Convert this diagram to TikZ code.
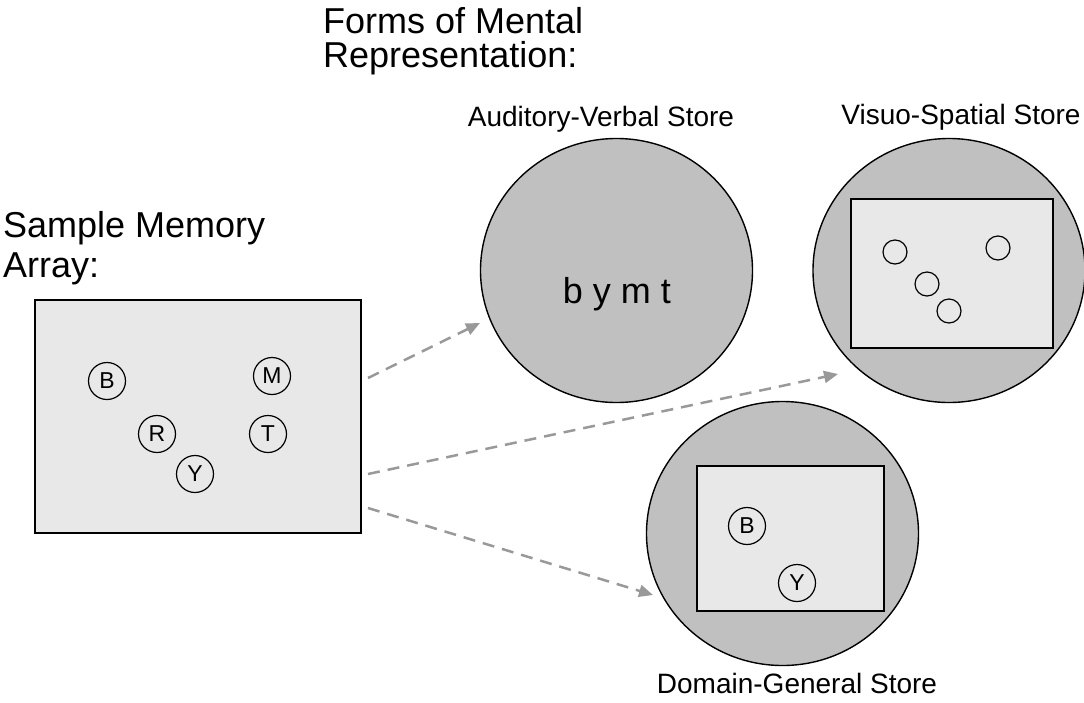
\documentclass[tikz,border=0pt]{standalone}
\usepackage{fontspec}
\setmainfont{Liberation Sans}
\usetikzlibrary{positioning,shapes.geometric,arrows.meta}
\definecolor{storegray}{HTML}{C0C0C0}
\definecolor{panelgray}{HTML}{E8E8E8}
\definecolor{flowgray}{HTML}{999999}
\tikzset{
  store/.style={ellipse, draw=black, line width=1.4pt, fill=storegray,
    minimum width=272pt, minimum height=264pt, inner sep=0pt},
  panel/.style={rectangle, draw=black, line width=1.4pt, fill=panelgray, inner sep=0pt},
  item/.style={circle, draw=black, line width=1.2pt, minimum size=37pt, inner sep=0pt,
    font=\fontsize{23}{23}\selectfont},
  blank/.style={circle, draw=black, line width=1.2pt, minimum size=24pt, inner sep=0pt},
  flow/.style={-{Triangle[length=14pt,width=12pt]}, flowgray, line width=2.5pt,
    dash pattern=on 12pt off 8pt},
  heading/.style={align=left, inner sep=0pt, anchor=base west},
  storelabel/.style={inner sep=0pt, anchor=base, font=\fontsize{28}{28}\selectfont}
}
\begin{document}
\begin{tikzpicture}[x=1pt,y=-1pt]
  \useasboundingbox (0,0) rectangle (1084,702);
  % headings (base is on the last line)
  \node[heading, font=\fontsize{36}{34}\selectfont] (forms) at (323,67)
    {Forms of Mental\\Representation:};
  \node[heading, font=\fontsize{36}{40}\selectfont] (sample) at (3,277)
    {Sample Memory\\Array:};
  % memory array
  \node[panel, minimum width=326pt, minimum height=233pt] (array) at (198,416.5) {};
  \node[item] (b) at (107,381) {B};
  \node[item] (m) at (272,376) {M};
  \node[item] (r) at (157,434) {R};
  \node[item] (t) at (268,434) {T};
  \node[item] (y) at (195,474) {Y};
  % stores
  \node[store] (av) at (616.5,270.5) {};
  \node[store] (vs) at (949,270.5) {};
  \node[store] (dg) at (782.5,533.5) {};
  \node[storelabel] (avlabel) at (601,126) {Auditory-Verbal Store};
  \node[storelabel] (vslabel) at (961,124) {Visuo-Spatial Store};
  \node[storelabel] (dglabel) at (797,693) {Domain-General Store};
  \node[inner sep=0pt, anchor=base, font=\fontsize{36}{36}\selectfont] (words) at (617,303) {b y m t};
  % visuo-spatial copy
  \node[panel, minimum width=202pt, minimum height=149pt] (vspanel) at (952,273.5) {};
  \node[blank] (vs1) at (895,252) {};
  \node[blank] (vs2) at (998,248) {};
  \node[blank] (vs3) at (927,284) {};
  \node[blank] (vs4) at (949,311) {};
  % domain-general copy
  \node[panel, minimum width=187pt, minimum height=145pt] (dgpanel) at (790.5,538.5) {};
  \node[item] (dgb) at (747,526) {B};
  \node[item] (dgy) at (797,583) {Y};
  % arrows
  \coordinate (out1) at (368,378);
  \coordinate (out2) at (368,474);
  \coordinate (out3) at (368,508);
  \coordinate (in1) at (480,323);
  \coordinate (in2) at (838,374);
  \coordinate (in3) at (653,595);
  \draw[flow] (out1) -- (in1);
  \draw[flow] (out2) -- (in2);
  \draw[flow] (out3) -- (in3);
\end{tikzpicture}
\end{document}
